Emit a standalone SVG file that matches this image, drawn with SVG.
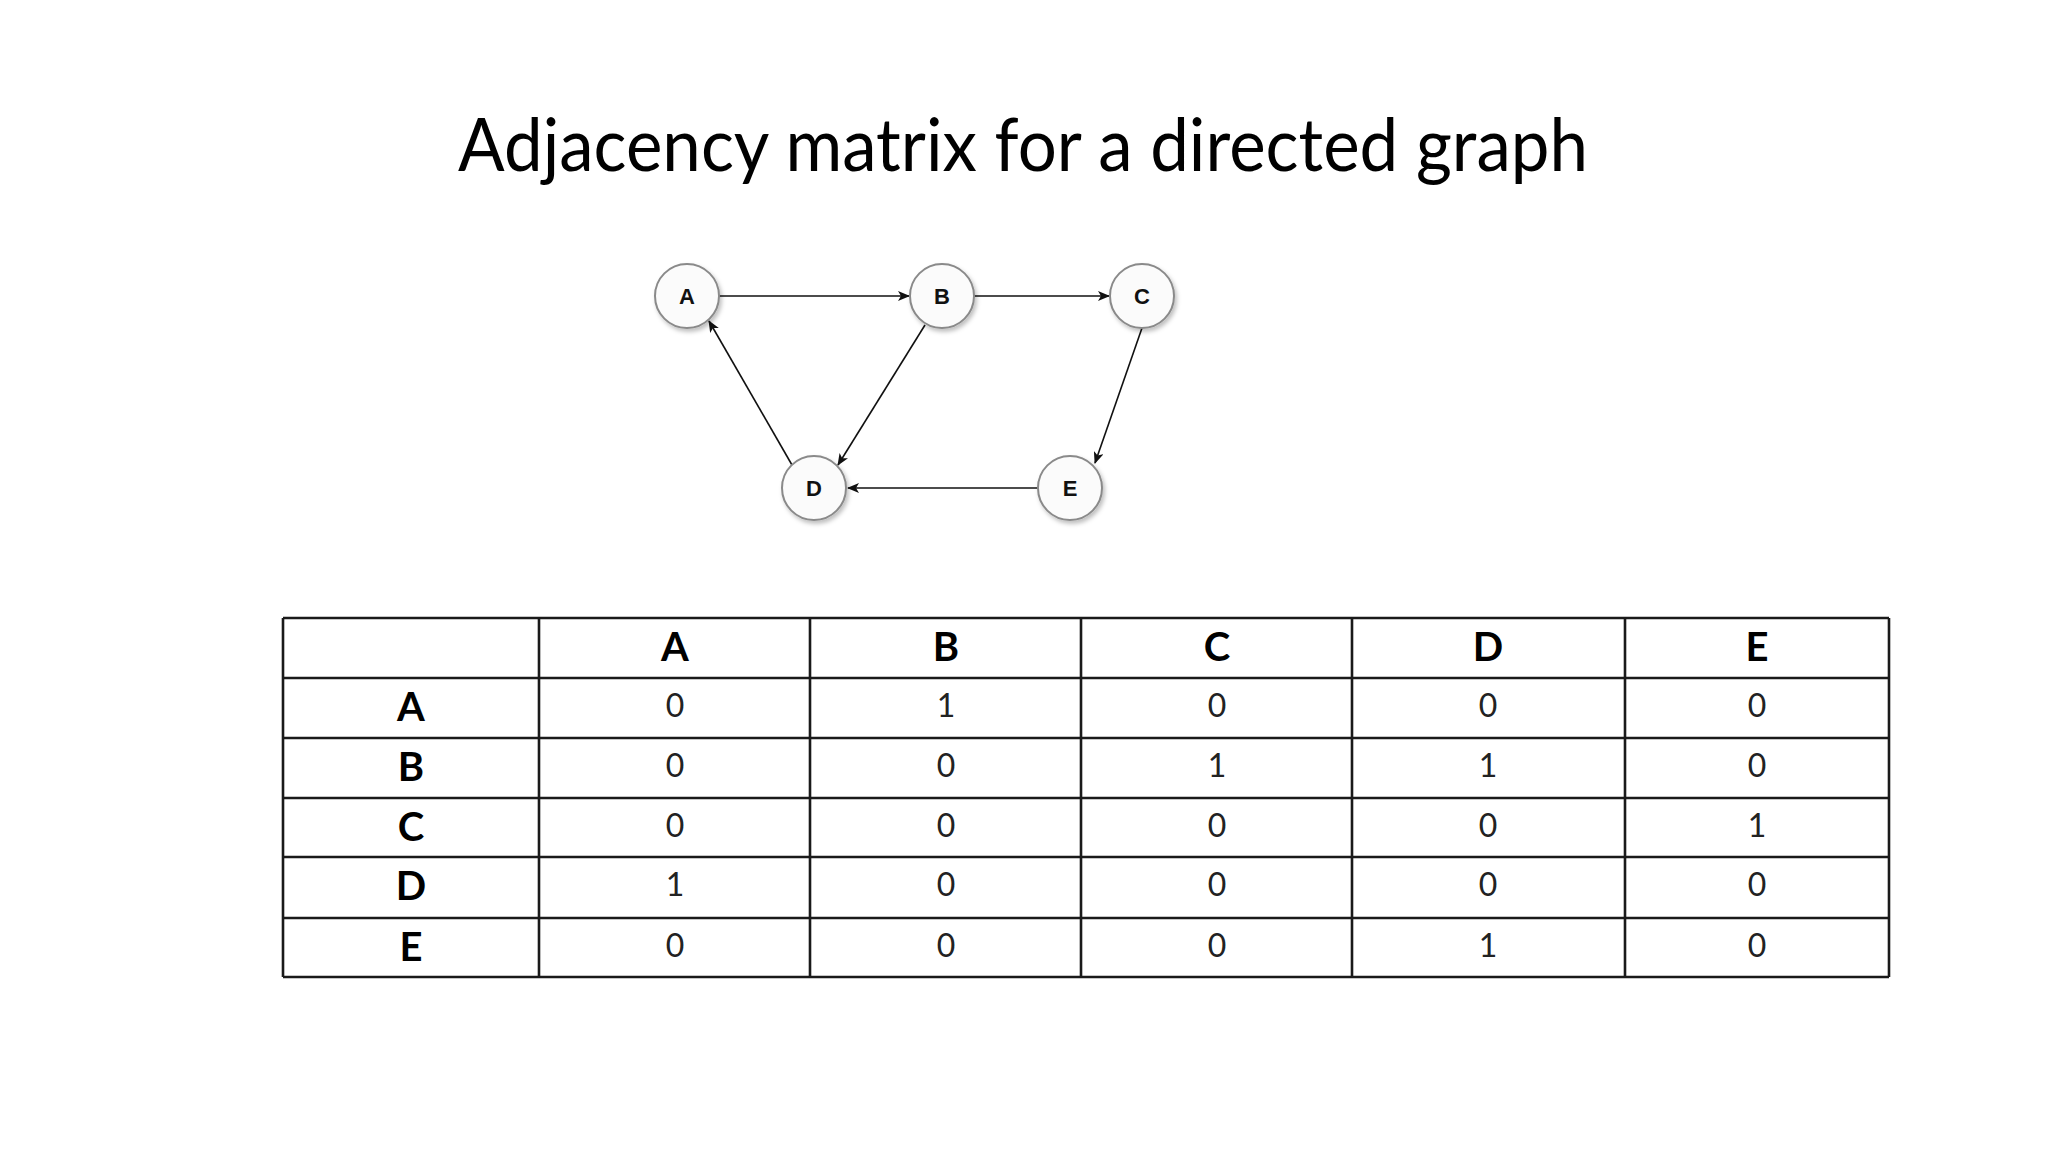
<svg xmlns="http://www.w3.org/2000/svg" width="2048" height="1152" viewBox="0 0 2048 1152">
<defs>
<style>
.title{font-family:Lato,"Open Sans","Liberation Sans",sans-serif;font-size:74px;fill:#000}
.node circle{fill:#fbfbfb;stroke:#8a8a8a;stroke-width:2;filter:url(#sh)}
.node text{font-family:"Liberation Sans",Arial,sans-serif;font-weight:bold;font-size:22px;fill:#111;text-anchor:middle}
.edge{stroke:#111;stroke-width:1.6;fill:none;marker-end:url(#arr)}
.grid line{stroke:#1a1a1a;stroke-width:2.6}
.hd{font-family:Lato,"Open Sans","Liberation Sans",sans-serif;font-weight:bold;font-size:40px;fill:#000;text-anchor:middle}
.cell{font-family:Lato,"Open Sans","Liberation Sans",sans-serif;font-size:32px;fill:#222;text-anchor:middle}
</style>
<filter id="sh" x="-30%" y="-30%" width="170%" height="170%">
<feDropShadow dx="2" dy="3" stdDeviation="2" flood-color="#000" flood-opacity="0.25"/>
</filter>
<marker id="arr" viewBox="0 0 12 10" refX="11" refY="5" markerWidth="12" markerHeight="10" markerUnits="userSpaceOnUse" orient="auto">
<path d="M0,0 L12,5 L0,10 L3,5 z" fill="#111"/>
</marker>
</defs>
<rect width="2048" height="1152" fill="#fff"/>
<text class="title" x="458" y="171" textLength="1130" lengthAdjust="spacingAndGlyphs">Adjacency matrix for a directed graph</text>

<g id="connectors">
<line class="edge" x1="719" y1="296" x2="909" y2="296"/>
<line class="edge" x1="974" y1="296" x2="1109" y2="296"/>
<line class="edge" x1="1142" y1="328" x2="1095" y2="463"/>
<line class="edge" x1="925" y1="325" x2="838" y2="465"/>
<line class="edge" x1="792" y1="465" x2="709" y2="321"/>
<line class="edge" x1="1038" y1="488" x2="848" y2="488"/>
</g>

<g id="node-A" class="node"><circle cx="687" cy="296" r="32"/><text x="687" y="304">A</text></g>
<g id="node-B" class="node"><circle cx="942" cy="296" r="32"/><text x="942" y="304">B</text></g>
<g id="node-C" class="node"><circle cx="1142" cy="296" r="32"/><text x="1142" y="304">C</text></g>
<g id="node-D" class="node"><circle cx="814" cy="488" r="32"/><text x="814" y="496">D</text></g>
<g id="node-E" class="node"><circle cx="1070" cy="488" r="32"/><text x="1070" y="496">E</text></g>

<g id="table">
<g class="grid">
<line x1="283" y1="618" x2="1889" y2="618"/>
<line x1="283" y1="678" x2="1889" y2="678"/>
<line x1="283" y1="738" x2="1889" y2="738"/>
<line x1="283" y1="798" x2="1889" y2="798"/>
<line x1="283" y1="857" x2="1889" y2="857"/>
<line x1="283" y1="918" x2="1889" y2="918"/>
<line x1="283" y1="977" x2="1889" y2="977"/>
<line x1="283" y1="618" x2="283" y2="977"/>
<line x1="539" y1="618" x2="539" y2="977"/>
<line x1="810" y1="618" x2="810" y2="977"/>
<line x1="1081" y1="618" x2="1081" y2="977"/>
<line x1="1352" y1="618" x2="1352" y2="977"/>
<line x1="1625" y1="618" x2="1625" y2="977"/>
<line x1="1889" y1="618" x2="1889" y2="977"/>
</g>
<text class="hd" x="675" y="661">A</text>
<text class="hd" x="946" y="661">B</text>
<text class="hd" x="1217" y="661">C</text>
<text class="hd" x="1488" y="661">D</text>
<text class="hd" x="1757" y="661">E</text>
<text class="hd" x="411" y="721">A</text>
<text class="hd" x="411" y="781">B</text>
<text class="hd" x="411" y="841">C</text>
<text class="hd" x="411" y="900">D</text>
<text class="hd" x="411" y="961">E</text>

<text class="cell" x="675" y="717">0</text><text class="cell" x="946" y="717">1</text><text class="cell" x="1217" y="717">0</text><text class="cell" x="1488" y="717">0</text><text class="cell" x="1757" y="717">0</text>
<text class="cell" x="675" y="777">0</text><text class="cell" x="946" y="777">0</text><text class="cell" x="1217" y="777">1</text><text class="cell" x="1488" y="777">1</text><text class="cell" x="1757" y="777">0</text>
<text class="cell" x="675" y="837">0</text><text class="cell" x="946" y="837">0</text><text class="cell" x="1217" y="837">0</text><text class="cell" x="1488" y="837">0</text><text class="cell" x="1757" y="837">1</text>
<text class="cell" x="675" y="896">1</text><text class="cell" x="946" y="896">0</text><text class="cell" x="1217" y="896">0</text><text class="cell" x="1488" y="896">0</text><text class="cell" x="1757" y="896">0</text>
<text class="cell" x="675" y="957">0</text><text class="cell" x="946" y="957">0</text><text class="cell" x="1217" y="957">0</text><text class="cell" x="1488" y="957">1</text><text class="cell" x="1757" y="957">0</text>
</g>
</svg>
